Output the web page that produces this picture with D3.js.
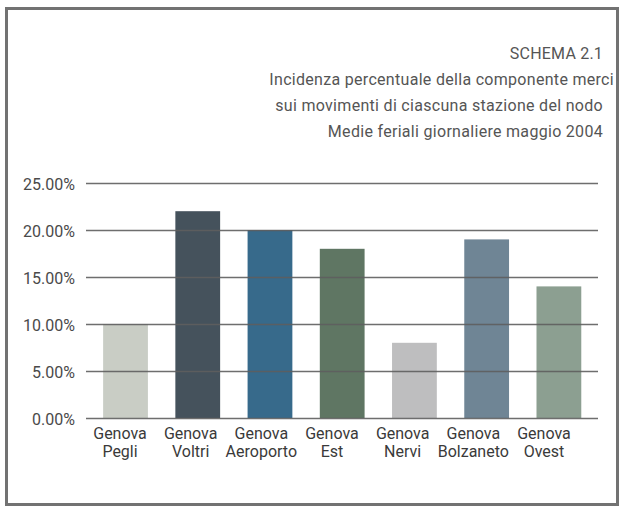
<!DOCTYPE html>
<html><head><meta charset="utf-8">
<script src="https://cdn.jsdelivr.net/npm/d3@7"></script>
<style>
html,body{margin:0;padding:0;background:#fff;}
svg{display:block;font-family:Roboto,"Noto Sans",sans-serif;}
</style></head>
<body>
<svg id="chart" width="624" height="512"></svg>
<script>
// ---- data ----
const titleLines = [
  "SCHEMA 2.1",
  "Incidenza percentuale della componente merci",
  "sui movimenti di ciascuna stazione del nodo",
  "Medie feriali giornaliere maggio 2004"
];
const categories = [
  ["Genova","Pegli"],
  ["Genova","Voltri"],
  ["Genova","Aeroporto"],
  ["Genova","Est"],
  ["Genova","Nervi"],
  ["Genova","Bolzaneto"],
  ["Genova","Ovest"]
];
const values = [10, 22, 20, 18, 8, 19, 14];
const barColors = ["#c9cdc5","#45525c","#376a8b","#5f7663","#bebebf","#6f8595","#8c9f91"];
const yTicks = [0, 5, 10, 15, 20, 25];

// ---- drawing ----
const svg = d3.select("#chart");

// frame
svg.append("rect")
  .attr("x", 6.5).attr("y", 8.5).attr("width", 611).attr("height", 496)
  .attr("fill", "none").attr("stroke", "#727272").attr("stroke-width", 3);

// title
const titleEnds = [603, 614, 603, 603];
svg.append("g").selectAll("text").data(titleLines).join("text")
  .attr("x", (d, i) => titleEnds[i])
  .attr("y", (d, i) => 59 + i * 26)
  .attr("text-anchor", "end")
  .attr("font-size", 16)
  .attr("letter-spacing", (d, i) => i === 0 ? 0.2 : 0.3)
  .attr("fill", "#555")
  .text(d => d);

const keys = categories.map(c => c.join(" "));
const y = d3.scaleLinear().domain([0, 25]).range([418, 183]);
const x = d3.scaleBand().domain(keys).range([89.4, 595]).paddingInner(0.38).paddingOuter(0.19);
const xl = d3.scaleBand().domain(keys).range([84.7, 579.3]);

// bars
svg.append("g").selectAll("rect").data(values).join("rect")
  .attr("x", (d, i) => x(keys[i]))
  .attr("width", x.bandwidth())
  .attr("y", d => y(d))
  .attr("height", d => y(0) - y(d))
  .attr("fill", (d, i) => barColors[i]);

// y axis (gridlines + labels)
const yAxis = d3.axisLeft(y).tickValues(yTicks)
  .tickSize(-(598 - 86)).tickPadding(11)
  .tickFormat(d => d.toFixed(2) + "%");
const gy = svg.append("g").attr("transform", "translate(86,0)").call(yAxis);
gy.select(".domain").remove();
gy.selectAll(".tick line").attr("stroke", "#5e5e5e").attr("stroke-width", 1.6).attr("stroke-opacity", 0.9);
gy.selectAll(".tick text").attr("font-size", 16).attr("fill", "#4a4a4a")
  .attr("font-family", "Roboto, sans-serif").attr("dy", "0.4em");

// x labels
const gx = svg.append("g");
categories.forEach((c, i) => {
  const t = gx.append("text")
    .attr("text-anchor", "middle")
    .attr("font-size", 16)
    .attr("fill", "#3a3a3a");
  c.forEach((line, j) => {
    t.append("tspan")
      .attr("x", xl(keys[i]) + xl.bandwidth() / 2)
      .attr("y", 439 + j * 17.5)
      .text(line);
  });
});
</script>
</body></html>
